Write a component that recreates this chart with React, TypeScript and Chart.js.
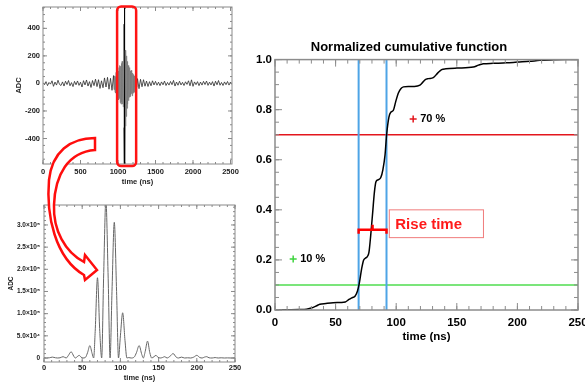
import React, { useEffect, useRef } from 'react';
import { Chart, registerables } from 'chart.js';

Chart.register(...registerables);

// ---------------- top-left: raw waveform (ADC vs time) ----------------
const rawPreStart = 0;
const rawPreStep = 20;
const rawPreAdc = [4, -9, 13, -16, 7, -5, 19, -21, 10, -12, 23, -7, -15, 11, -19, 16, -8, 21, -17, 6,
  -23, 15, -10, 18, -14, 9, -26, 20, -11, 25, -19, 13, -29, 21, -16, 31, -23, 27, -36, 19,
  -31, 40, -26, 44, -42, 37, -50, 57];
const rawBurstStart = 950;
const rawBurstStep = 5;
const rawBurstAdc = [-45, 55, -60, 50, -70, 80, -75, 65, -90, 95, -100, 90, -120, 115, -110, 130, -140, 125,
  -150, 145, -135, 160, -150, 140, -170, 430, -320, 950, -950, 240, -310, 230, -240, 200, -180, 160, -150,
  130, -125, 110, -100, 115, -95, 90, -85, 95, -75, 80, -90, 75, -70, 65, -60, 55, -65, 50, -45, 40, -35, 30, -28];
const rawPostStart = 1260;
const rawPostStep = 20;
const rawPostAdc = [35, -38, 30, -24, 27, -20, 17, -22, 13, -17, 19, -11, 15, -13, 9, -16, 11, -10, 17, -15,
  7, -12, 14, -9, 22, -19, 10, -13, 16, -11, 8, -15, 12, -7, 19, -17, 26, -21, 11, -9,
  13, -16, 10, -12, 15, -8, 17, -14, 9, -11, 13, -19, 16, -10, 21, -13, 7, -15, 11, -9, 14, -12, 10, -8];
const rawXTicks = [0, 500, 1000, 1500, 2000, 2500];
const rawYTicks = [-400, -200, 0, 200, 400];
const rawXRange = [0, 2520];
const rawYRange = [-585, 555];
const rawWindow = [988, 1242];

// ---------------- bottom-left: zoomed window ----------------
const zoomTimes = [0, 3, 7, 11, 15, 18, 21, 25, 29, 32, 35.5, 39, 41, 43.5, 46, 48.5, 51, 54, 57, 60,
  63, 65, 67, 70, 73, 75.5, 78, 81, 84, 86.5, 89, 92, 95, 97.5, 100, 103, 106, 108.5, 111, 114,
  118, 121, 124.5, 128, 130, 132.5, 135.5, 138.5, 141, 144, 146.5, 149, 152, 155, 158, 161, 165, 169, 173, 176,
  180, 184, 188, 192, 196, 200, 204, 207, 210, 213, 216, 220, 224, 228, 232, 236, 240, 245, 250];
const zoomAdc = [1000, 0, 500, 2000, 500, 0, 500, 3000, 0, 6000, 14000, 4000, 0, 3000, 6000, 2000, 0, 1000, 12000, 28000,
  10000, 0, 60000, 181000, 60000, 0, 180000, 355000, 180000, 0, 150000, 306000, 150000, 0, 50000, 102000, 40000, 0, 1000, 0,
  2000, 12000, 28000, 8000, 0, 15000, 38000, 12000, 0, 3000, 6000, 2000, 0, 1000, 3000, 0, 4000, 10000, 2000, 0,
  2000, 0, 500, 0, 2000, 6000, 1000, 0, 2000, 3000, 500, 0, 1000, 0, 500, 0, 300, 0, 200];
const zoomXTicks = [0, 50, 100, 150, 200, 250];
const zoomYTicks = [0, 50000, 100000, 150000, 200000, 250000, 300000];
const zoomYRange = [-9000, 345000];

// ---------------- right: normalized cumulative function ----------------
const cumTimes = [0, 10, 20, 26, 30, 34, 37, 42, 48, 54, 58, 61, 64, 66, 68, 69.5, 71.5, 73, 74.5, 76,
  77.5, 79, 80.6, 82, 83.3, 85, 87.2, 89, 90.8, 92.1, 94, 95.5, 97.6, 99.5, 101.7, 104, 106, 110, 115, 119.6,
  122, 124, 126.5, 130.6, 134, 137.5, 141, 150, 163.6, 168, 171.9, 180, 191, 200, 210, 218.6, 230, 240, 250];
const cumValues = [0, 0.001, 0.002, 0.003, 0.008, 0.016, 0.023, 0.026, 0.029, 0.03, 0.032, 0.042, 0.05, 0.055, 0.075, 0.105, 0.165, 0.198, 0.207, 0.212,
  0.23, 0.3, 0.39, 0.47, 0.512, 0.52, 0.528, 0.56, 0.62, 0.7, 0.77, 0.79, 0.797, 0.83, 0.866, 0.885, 0.891, 0.893, 0.893, 0.898,
  0.91, 0.92, 0.924, 0.928, 0.945, 0.96, 0.963, 0.966, 0.97, 0.978, 0.983, 0.985, 0.987, 0.99, 0.993, 0.997, 0.999, 1.0, 1.0];
const cumXTicks = [0, 50, 100, 150, 200, 250];
const cumYTicks = [0, 0.2, 0.4, 0.6, 0.8, 1.0];
const levelLow = 0.1;
const levelHigh = 0.7;
const riseStart = 69;
const riseEnd = 92;
const bracketLevel = 0.32;
const riseBoxTimes = [94.3, 172];
const riseBoxLevels = [0.289, 0.4];
const markerLow = { x: 15, y: 0.204, label: '10 %' };
const markerHigh = { x: 114, y: 0.763, label: '70 %' };

const FONT = '"Liberation Sans", Arial, Helvetica, sans-serif';

// ---------------- plugins ----------------
const framePlugin = {
  id: 'frame',
  afterDraw(chart: any, _a: any, o: any) {
    const { ctx, chartArea: a } = chart;
    const xs = chart.scales.x;
    const ys = chart.scales.y;
    ctx.save();
    ctx.strokeStyle = o.color;
    ctx.lineWidth = o.lineWidth;
    ctx.strokeRect(a.left, a.top, a.right - a.left, a.bottom - a.top);
    ctx.lineWidth = o.tickWidth;
    ctx.beginPath();
    const tickX = (v: number, len: number) => {
      const p = xs.getPixelForValue(v);
      ctx.moveTo(p, a.bottom); ctx.lineTo(p, a.bottom - len);
      ctx.moveTo(p, a.top); ctx.lineTo(p, a.top + len);
    };
    const tickY = (v: number, len: number) => {
      const p = ys.getPixelForValue(v);
      ctx.moveTo(a.left, p); ctx.lineTo(a.left + len, p);
      ctx.moveTo(a.right, p); ctx.lineTo(a.right - len, p);
    };
    const n1 = Math.ceil(xs.min / o.xMinor), n2 = Math.floor(xs.max / o.xMinor);
    for (let i = n1; i <= n2; i++) tickX(i * o.xMinor, o.minorLen);
    const m1 = Math.ceil(ys.min / o.yMinor - 1e-9), m2 = Math.floor(ys.max / o.yMinor + 1e-9);
    for (let i = m1; i <= m2; i++) tickY(i * o.yMinor, o.minorLen);
    xs.ticks.forEach((t: any) => tickX(t.value, o.majorLen));
    ys.ticks.forEach((t: any) => tickY(t.value, o.majorLen));
    ctx.stroke();
    ctx.restore();
  },
};

const windowPlugin = {
  id: 'windowBox',
  afterDraw(chart: any) {
    const { ctx, chartArea: a } = chart;
    const xs = chart.scales.x;
    const x1 = xs.getPixelForValue(rawWindow[0]);
    const x2 = xs.getPixelForValue(rawWindow[1]);
    const y1 = a.top - 0.5;
    const y2 = a.bottom + 2;
    ctx.save();
    ctx.strokeStyle = '#ff1414';
    ctx.lineWidth = 2.5;
    ctx.beginPath();
    (ctx as any).roundRect(x1, y1, x2 - x1, y2 - y1, 4);
    ctx.stroke();
    ctx.restore();
  },
};

const cumAnnoPlugin = {
  id: 'cumAnno',
  beforeDatasetsDraw(chart: any) {
    const { ctx, chartArea: a } = chart;
    const xs = chart.scales.x, ys = chart.scales.y;
    ctx.save();
    const hline = (v: number, color: string) => {
      const p = ys.getPixelForValue(v);
      ctx.strokeStyle = color; ctx.lineWidth = 1.5;
      ctx.beginPath(); ctx.moveTo(a.left, p); ctx.lineTo(a.right, p); ctx.stroke();
    };
    hline(levelLow, '#4fdc4f');
    hline(levelHigh, '#e3161d');
    [riseStart, riseEnd].forEach((t) => {
      const p = xs.getPixelForValue(t);
      ctx.strokeStyle = '#4ea4e6'; ctx.lineWidth = 2;
      ctx.beginPath(); ctx.moveTo(p, a.top); ctx.lineTo(p, a.bottom); ctx.stroke();
    });
    ctx.restore();
  },
  afterDatasetsDraw(chart: any) {
    const { ctx } = chart;
    const xs = chart.scales.x, ys = chart.scales.y;
    ctx.save();
    // bracket
    const x1 = xs.getPixelForValue(riseStart), x2 = xs.getPixelForValue(riseEnd);
    const yb = ys.getPixelForValue(bracketLevel);
    ctx.strokeStyle = '#ff0000'; ctx.lineWidth = 2.5;
    ctx.beginPath();
    ctx.moveTo(x1, yb + 4); ctx.lineTo(x1, yb); ctx.lineTo(x2, yb); ctx.lineTo(x2, yb + 4);
    const xm = (x1 + x2) / 2;
    ctx.moveTo(xm, yb); ctx.lineTo(xm, yb - 5);
    ctx.stroke();
    // rise time box
    const bx1 = xs.getPixelForValue(riseBoxTimes[0]), bx2 = xs.getPixelForValue(riseBoxTimes[1]);
    const by1 = ys.getPixelForValue(riseBoxLevels[1]), by2 = ys.getPixelForValue(riseBoxLevels[0]);
    ctx.fillStyle = '#ffffff';
    ctx.fillRect(bx1, by1, bx2 - bx1, by2 - by1);
    ctx.strokeStyle = '#f07c7c'; ctx.lineWidth = 1;
    ctx.strokeRect(bx1, by1, bx2 - bx1, by2 - by1);
    ctx.fillStyle = '#ff1a1a';
    ctx.font = `bold 15px ${FONT}`;
    ctx.textBaseline = 'middle';
    ctx.textAlign = 'left';
    ctx.fillText('Rise time', bx1 + 6, (by1 + by2) / 2 + 1);
    // marker labels
    ctx.fillStyle = '#000';
    ctx.font = `bold 11px ${FONT}`;
    [markerLow, markerHigh].forEach((m) => {
      ctx.fillText(m.label, xs.getPixelForValue(m.x) + 7, ys.getPixelForValue(m.y) + 0.5);
    });
    ctx.restore();
  },
};

// ---------------- helpers ----------------
const sup: Record<string, string> = { '0': '⁰', '1': '¹', '2': '²', '3': '³', '4': '⁴', '5': '⁵', '6': '⁶', '7': '⁷', '8': '⁸', '9': '⁹' };
function sciLabel(v: number) {
  if (v === 0) return '0';
  const e = Math.floor(Math.log10(Math.abs(v)) + 1e-9);
  const m = v / Math.pow(10, e);
  return `${m.toFixed(1)}×10${String(e).split('').map((c) => sup[c]).join('')}`;
}

function axis(opts: any) {
  const { ticks, min, max, size, fontSize, pad, title, titlePad, horizontal, fmt, color } = opts;
  return {
    type: 'linear',
    min,
    max,
    grid: { display: false, drawTicks: false },
    border: { display: false },
    afterBuildTicks: (s: any) => { s.ticks = ticks.map((v: number) => ({ value: v })); },
    afterFit: (s: any) => {
      if (horizontal) s.height = size; else s.width = size;
      s.paddingLeft = 0; s.paddingRight = 0; s.paddingTop = 0; s.paddingBottom = 0;
    },
    ticks: {
      autoSkip: false,
      maxRotation: 0,
      padding: pad,
      color,
      font: { family: FONT, size: fontSize, weight: 'bold' },
      callback: fmt,
    },
    title: {
      display: true,
      text: title,
      color,
      padding: titlePad,
      font: { family: FONT, size: fontSize, weight: 'bold' },
    },
  };
}

function ChartBox({ left, top, width, height, config }: any) {
  const ref = useRef<HTMLCanvasElement>(null);
  useEffect(() => {
    const chart = new Chart(ref.current as HTMLCanvasElement, config());
    return () => chart.destroy();
  }, []);
  return (
    <canvas
      ref={ref}
      width={width}
      height={height}
      style={{ position: 'absolute', left, top, width, height }}
    />
  );
}

function rawConfig(): any {
  const pts: { x: number; y: number }[] = [];
  rawPreAdc.forEach((v, i) => pts.push({ x: rawPreStart + i * rawPreStep, y: v }));
  rawBurstAdc.forEach((v, i) => pts.push({ x: rawBurstStart + i * rawBurstStep, y: v }));
  rawPostAdc.forEach((v, i) => pts.push({ x: rawPostStart + i * rawPostStep, y: v }));
  const burstEnd = rawBurstStart + (rawBurstAdc.length - 1) * rawBurstStep;
  return {
    type: 'line',
    data: {
      datasets: [{
        data: pts,
        borderColor: '#2a2a2a',
        borderWidth: 0.8,
        pointRadius: 0,
        tension: 0,
        segment: {
          borderColor: (c: any) => {
            const a = c.p0.parsed, b = c.p1.parsed;
            if (Math.abs(a.y) > 600 || Math.abs(b.y) > 600) return '#000';
            if (a.x >= rawBurstStart && b.x <= burstEnd) return '#7a7a7a';
            return undefined;
          },
          borderWidth: (c: any) => (Math.abs(c.p0.parsed.y) > 600 || Math.abs(c.p1.parsed.y) > 600 ? 1 : undefined),
        },
      }],
    },
    options: {
      responsive: false,
      animation: false,
      events: [],
      layout: { padding: { top: 7, right: 10, left: 0, bottom: 0 } },
      plugins: {
        legend: { display: false },
        tooltip: { enabled: false },
        frame: { color: '#8a8a8a', lineWidth: 1, tickWidth: 1, majorLen: 4, minorLen: 2, xMinor: 100, yMinor: 50 },
      },
      scales: {
        x: axis({ ticks: rawXTicks, min: rawXRange[0], max: rawXRange[1], size: 26, fontSize: 7.5, pad: 3.5, title: 'time (ns)', titlePad: { top: 0, bottom: 4 }, horizontal: true, color: '#222' }),
        y: axis({ ticks: rawYTicks, min: rawYRange[0], max: rawYRange[1], size: 43, fontSize: 7.5, pad: 3, title: 'ADC', titlePad: { top: 14, bottom: 0 }, horizontal: false, color: '#222' }),
      },
    },
    plugins: [framePlugin, windowPlugin],
  };
}

function zoomConfig(): any {
  const pts = zoomTimes.map((t, i) => ({ x: t, y: zoomAdc[i] }));
  return {
    type: 'line',
    data: { datasets: [{ data: pts, borderColor: '#666', borderWidth: 1, pointRadius: 0, cubicInterpolationMode: 'monotone' }] },
    options: {
      responsive: false,
      animation: false,
      events: [],
      layout: { padding: { top: 10, right: 10, left: 0, bottom: 0 } },
      plugins: {
        legend: { display: false },
        tooltip: { enabled: false },
        frame: { color: '#8a8a8a', lineWidth: 1, tickWidth: 1, majorLen: 4, minorLen: 2, xMinor: 10, yMinor: 10000 },
      },
      scales: {
        x: axis({ ticks: zoomXTicks, min: 0, max: 250, size: 23, fontSize: 7.5, pad: 1.2, title: 'time (ns)', titlePad: { top: 0, bottom: 2.5 }, horizontal: true, color: '#222' }),
        y: axis({ ticks: zoomYTicks, min: zoomYRange[0], max: zoomYRange[1], size: 44, fontSize: 6.5, pad: 4, title: 'ADC', titlePad: { top: 7, bottom: 0 }, horizontal: false, color: '#222', fmt: (v: number) => sciLabel(v) }),
      },
    },
    plugins: [framePlugin],
  };
}

function cumConfig(): any {
  const pts = cumTimes.map((t, i) => ({ x: t, y: cumValues[i] }));
  const marker = (m: any, color: string) => ({
    data: [{ x: m.x, y: m.y }],
    showLine: false,
    pointStyle: 'cross',
    pointRadius: 3.5,
    borderColor: color,
    borderWidth: 1.5,
  });
  return {
    type: 'line',
    data: {
      datasets: [
        { data: pts, borderColor: '#000', borderWidth: 1.5, pointRadius: 0, cubicInterpolationMode: 'monotone' },
        marker(markerLow, '#3fd43f'),
        marker(markerHigh, '#e3161d'),
      ],
    },
    options: {
      responsive: false,
      animation: false,
      events: [],
      layout: { padding: { top: 0, right: 7, left: 0, bottom: 0 } },
      plugins: {
        legend: { display: false },
        tooltip: { enabled: false },
        title: {
          display: true,
          text: 'Normalized cumulative function',
          color: '#000',
          font: { family: FONT, size: 13, weight: 'bold' },
          padding: { top: 9, bottom: 4 },
        },
        frame: { color: '#8c8c8c', lineWidth: 1.5, tickWidth: 1, majorLen: 7, minorLen: 4, xMinor: 10, yMinor: 0.05 },
      },
      scales: {
        x: axis({ ticks: cumXTicks, min: 0, max: 250, size: 40, fontSize: 11.5, pad: 6, title: 'time (ns)', titlePad: { top: 0, bottom: 6.4 }, horizontal: true, color: '#000' }),
        y: { ...axis({ ticks: cumYTicks, min: 0, max: 1, size: 35, fontSize: 11.5, pad: 3, title: '', titlePad: 0, horizontal: false, color: '#000', fmt: (v: number) => v.toFixed(1) }), title: { display: false } },
      },
    },
    plugins: [framePlugin, cumAnnoPlugin],
  };
}

function Arrow() {
  const d = 'M 95 138 C 70 138 52 152 49 180 C 46 215 55 258 84 275 L 85 280 L 97 270 L 85 255 L 84 262 C 65 252 53 230 54 205 C 55 175 68 152 95 150 Z';
  return (
    <svg width={585} height={385} style={{ position: 'absolute', left: 0, top: 0, pointerEvents: 'none' }}>
      <path d={d} fill="#ffffff" stroke="#ff0d0d" strokeWidth={2.5} strokeLinejoin="miter" />
    </svg>
  );
}

export default function App() {
  return (
    <div style={{ position: 'fixed', left: 0, top: 0, width: 585, height: 385, background: '#fff', overflow: 'hidden' }}>
      <ChartBox left={0} top={0} width={242} height={190} config={rawConfig} />
      <ChartBox left={0} top={195} width={245} height={190} config={zoomConfig} />
      <ChartBox left={240} top={31} width={345} height={319} config={cumConfig} />
      <Arrow />
    </div>
  );
}
